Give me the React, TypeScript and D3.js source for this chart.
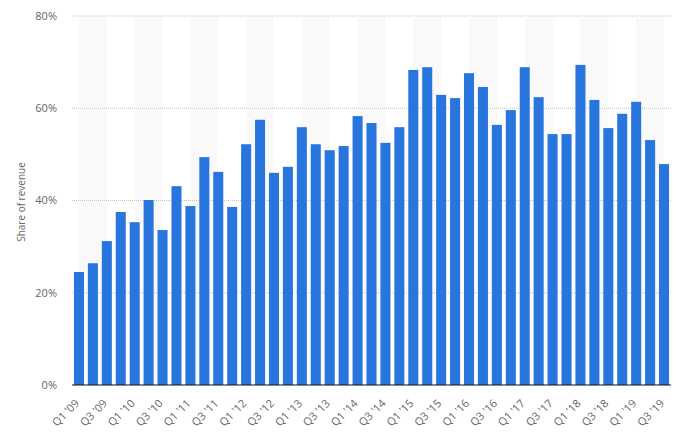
import React from "react";
import * as d3 from "d3";

const categories: string[] = [
  "Q1 '09", "Q2 '09", "Q3 '09", "Q4 '09",
  "Q1 '10", "Q2 '10", "Q3 '10", "Q4 '10",
  "Q1 '11", "Q2 '11", "Q3 '11", "Q4 '11",
  "Q1 '12", "Q2 '12", "Q3 '12", "Q4 '12",
  "Q1 '13", "Q2 '13", "Q3 '13", "Q4 '13",
  "Q1 '14", "Q2 '14", "Q3 '14", "Q4 '14",
  "Q1 '15", "Q2 '15", "Q3 '15", "Q4 '15",
  "Q1 '16", "Q2 '16", "Q3 '16", "Q4 '16",
  "Q1 '17", "Q2 '17", "Q3 '17", "Q4 '17",
  "Q1 '18", "Q2 '18", "Q3 '18", "Q4 '18",
  "Q1 '19", "Q2 '19", "Q3 '19",
];

const shareOfRevenue: number[] = [
  24.5, 26.4, 31.2, 37.5, 35.3, 40.1, 33.6, 43.1, 38.8, 49.4,
  46.2, 38.6, 52.2, 57.5, 46.0, 47.3, 55.9, 52.2, 50.9, 51.8,
  58.3, 56.8, 52.5, 55.9, 68.3, 68.9, 62.9, 62.2, 67.6, 64.6,
  56.4, 59.6, 68.9, 62.4, 54.4, 54.4, 69.4, 61.8, 55.7, 58.8,
  61.4, 53.1, 47.9,
];

const yTicks: number[] = [0, 20, 40, 60, 80];
const yTitle = "Share of revenue";

const W = 681;
const H = 442;
const FONT = "'Open Sans', sans-serif";

export default function App() {
  const x = d3
    .scaleBand<string>()
    .domain(categories)
    .range([72, 671])
    .paddingInner(0.28)
    .paddingOuter(0.14);
  const y = d3.scaleLinear().domain([0, 80]).range([385, 16]);
  const bw = x.bandwidth();
  const cx = (c: string) => (x(c) as number) + bw / 2;

  // alternating shaded bands: from Q1 to Q3 of each year
  const bands: [string, string][] = [];
  for (let i = 0; i < categories.length; i += 4) {
    if (i + 2 < categories.length) bands.push([categories[i], categories[i + 2]]);
  }

  return (
    <svg
      width={W}
      height={H}
      style={{ position: "absolute", left: 0, top: 0, background: "#fff" }}
    >
      {bands.map(([a, b], i) => (
        <rect
          key={"band" + i}
          x={cx(a)}
          y={y(80) + 1}
          width={cx(b) - cx(a)}
          height={y(0) - y(80) - 1}
          fill="#f9f9f9"
        />
      ))}
      {yTicks
        .filter((t) => t > 0)
        .map((t) => (
          <line
            key={"g" + t}
            x1={72}
            x2={671}
            y1={y(t)}
            y2={y(t)}
            stroke="#c4c4c4"
            strokeWidth={1}
            strokeDasharray="1,1"
          />
        ))}
      {yTicks.map((t) => (
        <text
          key={"yt" + t}
          x={57}
          y={y(t)}
          dy="0.35em"
          textAnchor="end"
          fontFamily={FONT}
          fontSize={11}
          fill="#666"
        >
          {t + "%"}
        </text>
      ))}
      {categories.map((c, i) => (
        <rect
          key={"b" + i}
          x={x(c)}
          y={y(shareOfRevenue[i])}
          width={bw}
          height={y(0) - y(shareOfRevenue[i])}
          fill="#2876dd"
        />
      ))}
      <line x1={72} x2={671} y1={y(0)} y2={y(0)} stroke="#111" strokeWidth={1.2} />
      {categories.map((c, i) =>
        i % 2 === 0 ? (
          <text
            key={"xt" + i}
            transform={`translate(${cx(c) + 1},${404}) rotate(-45)`}
            textAnchor="end"
            fontFamily={FONT}
            fontSize={11}
            fill="#666"
          >
            {c}
          </text>
        ) : null
      )}
      <text
        transform={`translate(25,202) rotate(-90)`}
        textAnchor="middle"
        fontFamily={FONT}
        fontSize={10}
        fill="#666"
      >
        {yTitle}
      </text>
    </svg>
  );
}
